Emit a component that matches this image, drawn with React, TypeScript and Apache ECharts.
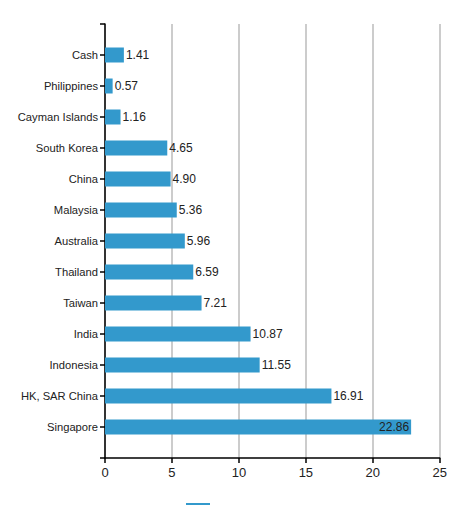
import React, { useEffect, useRef } from "react";
import * as echarts from "echarts";

const categories = ["Cash", "Philippines", "Cayman Islands", "South Korea", "China", "Malaysia", "Australia", "Thailand", "Taiwan", "India", "Indonesia", "HK, SAR China", "Singapore"];
const values = [1.41, 0.57, 1.16, 4.65, 4.9, 5.36, 5.96, 6.59, 7.21, 10.87, 11.55, 16.91, 22.86];
const xTicks = [0, 5, 10, 15, 20, 25];

export default function App() {
  const ref = useRef<HTMLDivElement>(null);
  useEffect(() => {
    if (!ref.current) return;
    const chart = echarts.init(ref.current, null, { renderer: "svg" });
    const cats = ["", ...categories, ""];
    const data = [
      null,
      ...values.map((v, i) => ({
        value: v,
        label:
          i === values.length - 1
            ? { position: "insideRight", distance: 2 }
            : { position: "right", distance: 2 },
      })),
      null,
    ];
    chart.setOption({
      animation: false,
      textStyle: { fontFamily: "'Liberation Sans', Arial, sans-serif" },
      grid: { left: 105, right: 9, top: 24, bottom: 47, containLabel: false },
      legend: {
        show: true,
        top: 503,
        left: 186,
        padding: 0,
        icon: "rect",
        itemWidth: 24,
        itemHeight: 14,
        formatter: () => "",
        data: ["Weight"],
      },
      xAxis: {
        type: "value",
        min: xTicks[0],
        max: xTicks[xTicks.length - 1],
        interval: 5,
        axisLine: { show: true, lineStyle: { color: "#000", width: 1.5 } },
        axisTick: { show: true, length: 5, lineStyle: { color: "#000", width: 1.5 } },
        axisLabel: { color: "#222", fontSize: 13, margin: 8 },
        splitLine: { show: true, lineStyle: { color: "#bbbbbb", width: 1.5 } },
      },
      yAxis: {
        type: "category",
        inverse: true,
        boundaryGap: false,
        data: cats,
        axisLine: { show: true, lineStyle: { color: "#000", width: 1.5 } },
        axisTick: { show: true, length: 5, alignWithLabel: true, lineStyle: { color: "#000", width: 1.5 } },
        axisLabel: { color: "#222", fontSize: 11.2, margin: 7, interval: 0 },
        splitLine: { show: false },
      },
      series: [
        {
          name: "Weight",
          type: "bar",
          data,
          barWidth: 15,
          itemStyle: { color: "#3399cc" },
          label: {
            show: true,
            color: "#222",
            fontSize: 12,
            formatter: (p: any) => Number(p.value).toFixed(2),
          },
        },
      ],
    });
    return () => chart.dispose();
  }, []);
  return <div ref={ref} style={{ width: 450, height: 505, position: "absolute", left: 0, top: 0 }} />;
}
